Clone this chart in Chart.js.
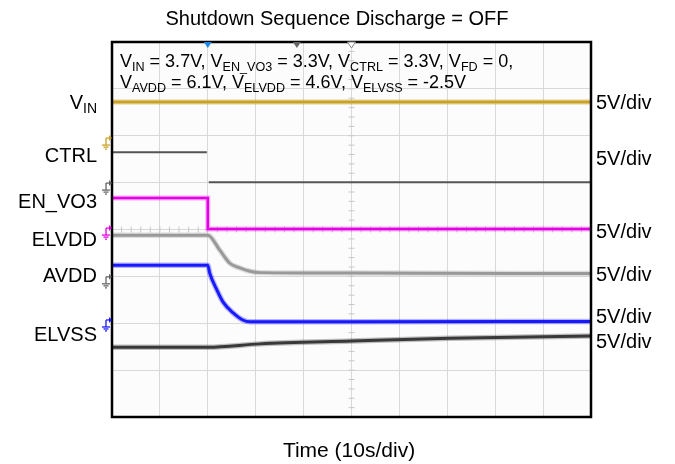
<!DOCTYPE html>
<html>
<head>
<meta charset="utf-8">
<script src="https://cdn.jsdelivr.net/npm/chart.js@4/dist/chart.umd.min.js"></script>
<style>
  html, body { margin: 0; padding: 0; background: #fff; }
  #wrap { width: 675px; height: 464px; }
</style>
</head>
<body>
<div id="wrap"><canvas id="scope"></canvas></div>
<script>
// time in seconds (10 s/div), levels in screen divisions from bottom of graticule
const vinT = [0, 100];
const vinDiv = [6.72, 6.72];

// null = gap (no visible edge on the CTRL trace)
const ctrlT = [0, 19.8, 20, 20.2, 100];
const ctrlDiv = [5.65, 5.65, null, 5.01, 5.01];

const envo3T = [0, 20, 20, 100];
const envo3Div = [4.67, 4.67, 4.01, 4.01];

const elvddT = [0, 20, 22.5, 24.6, 26.7, 28.8, 30.9, 50, 100];
const elvddDiv = [3.88, 3.88, 3.56, 3.28, 3.18, 3.11, 3.08, 3.07, 3.06];

const avddT = [0, 20, 20.4, 21.9, 23.2, 25.3, 27.3, 28.8, 50, 100];
const avddDiv = [3.24, 3.24, 3.07, 2.71, 2.45, 2.22, 2.07, 2.03, 2.03, 2.04];

const elvssT = [0, 20, 30.9, 50, 70.6, 100];
const elvssDiv = [1.49, 1.49, 1.56, 1.62, 1.68, 1.73];

const groundDiv = [5.95, 4.99, 4.03, 2.99, 2.07];
const groundColors = ["#c9a227", "#666666", "#e600e6", "#666666", "#1a1aff"];

const leftLabels = [["V", "IN", 6.72], ["CTRL", "", 5.6], ["EN_VO3", "", 4.6], ["ELVDD", "", 3.8], ["AVDD", "", 3.03], ["ELVSS", "", 1.78]];
const rightLabels = [6.72, 5.52, 3.97, 3.06, 2.16, 1.62];

function pts(t, v) { return t.map((x, i) => ({ x: x, y: v[i] })); }

function trace(t, v, color, width, halo, smooth) {
  const base = { pointRadius: 0, fill: false, spanGaps: false, tension: smooth ? 0.4 : 0, cubicInterpolationMode: smooth ? "monotone" : "default" };
  const out = [Object.assign({ data: pts(t, v), borderColor: color, borderWidth: width }, base)];
  if (halo) out.unshift(Object.assign({ data: pts(t, v), borderColor: color + "50", borderWidth: width + 2.5 }, base));
  return out;
}

function richText(ctx, parts, x, y, size) {
  // parts: [text, isSub]
  parts.forEach(p => {
    const s = p[1] ? size * 0.7 : size;
    ctx.font = s + "px 'Liberation Sans', Arial, sans-serif";
    ctx.fillText(p[0], x, p[1] ? y + 4 : y);
    x += ctx.measureText(p[0]).width;
  });
  return x;
}

const scopeDeco = {
  id: "scopeDeco",
  beforeDraw(chart) {
    const { ctx, chartArea: a } = chart;
    ctx.save();
    ctx.fillStyle = "#fcfcfc";
    ctx.fillRect(a.left, a.top, a.right - a.left, a.bottom - a.top);
    ctx.restore();
  },
  beforeDatasetsDraw(chart) {
    const { ctx, chartArea: a, scales: { x, y } } = chart;
    ctx.save();
    ctx.strokeStyle = "#c8c8c8";
    ctx.lineWidth = 1;
    const cx = x.getPixelForValue(50), cy = y.getPixelForValue(4);
    for (let d = 0; d <= 8; d += 0.2) {
      const py = y.getPixelForValue(d);
      ctx.beginPath(); ctx.moveTo(cx - 3, py); ctx.lineTo(cx + 3, py); ctx.stroke();
    }
    for (let t = 0; t <= 100; t += 2) {
      const px = x.getPixelForValue(t);
      ctx.beginPath(); ctx.moveTo(px, cy - 3); ctx.lineTo(px, cy + 3); ctx.stroke();
    }
    ctx.restore();
  },
  afterDraw(chart) {
    const { ctx, chartArea: a, scales: { x, y } } = chart;
    ctx.save();
    // frame
    ctx.strokeStyle = "#000";
    ctx.lineWidth = 2.5;
    ctx.strokeRect(a.left, a.top, a.right - a.left, a.bottom - a.top);

    // top markers
    const tri = (t, fill, stroke) => {
      const px = x.getPixelForValue(t);
      ctx.beginPath();
      ctx.moveTo(px - 4, a.top); ctx.lineTo(px + 4, a.top); ctx.lineTo(px, a.top + 6); ctx.closePath();
      if (fill) { ctx.fillStyle = fill; ctx.fill(); }
      if (stroke) { ctx.strokeStyle = stroke; ctx.lineWidth = 1; ctx.stroke(); }
    };
    tri(20, "#1e88e5");
    tri(38.6, "#666");
    tri(50, "#fff", "#888");

    // ground markers
    groundDiv.forEach((d, i) => {
      const py = y.getPixelForValue(d);
      const c = groundColors[i];
      ctx.strokeStyle = c; ctx.fillStyle = c; ctx.lineWidth = 1.3;
      ctx.beginPath(); ctx.moveTo(a.left - 6, py); ctx.lineTo(a.left - 3, py); ctx.stroke();
      ctx.beginPath(); ctx.moveTo(a.left - 3, py - 3); ctx.lineTo(a.left, py); ctx.lineTo(a.left - 3, py + 3); ctx.closePath(); ctx.fill();
      ctx.beginPath(); ctx.moveTo(a.left - 6, py); ctx.lineTo(a.left - 6, py + 7); ctx.stroke();
      ctx.beginPath(); ctx.moveTo(a.left - 10, py + 7); ctx.lineTo(a.left - 2, py + 7); ctx.stroke();
      ctx.beginPath(); ctx.moveTo(a.left - 8.5, py + 9); ctx.lineTo(a.left - 3.5, py + 9); ctx.stroke();
      ctx.beginPath(); ctx.moveTo(a.left - 7, py + 11); ctx.lineTo(a.left - 5, py + 11); ctx.stroke();
    });

    // texts
    ctx.fillStyle = "#000";
    ctx.textBaseline = "alphabetic";
    ctx.textAlign = "center";
    ctx.font = "20px 'Liberation Sans', Arial, sans-serif";
    ctx.fillText("Shutdown Sequence Discharge = OFF", 337, 25);
    ctx.font = "21px 'Liberation Sans', Arial, sans-serif";
    ctx.fillText("Time (10s/div)", 349, 457);

    ctx.textAlign = "left";
    richText(ctx, [["V"], ["IN", 1], [" = 3.7V, V"], ["EN_VO3", 1], [" = 3.3V, V"], ["CTRL", 1], [" = 3.3V, V"], ["FD", 1], [" = 0,"]], a.left + 8, 67, 18);
    richText(ctx, [["V"], ["AVDD", 1], [" = 6.1V, V"], ["ELVDD", 1], [" = 4.6V, V"], ["ELVSS", 1], [" = -2.5V"]], a.left + 8, 88, 18);

    // channel names, right aligned
    leftLabels.forEach(l => {
      const py = y.getPixelForValue(l[2]) + 7;
      ctx.font = "20px 'Liberation Sans', Arial, sans-serif";
      let w = ctx.measureText(l[0]).width;
      let sw = 0;
      if (l[1]) { ctx.font = "14px 'Liberation Sans', Arial, sans-serif"; sw = ctx.measureText(l[1]).width; }
      richText(ctx, l[1] ? [[l[0]], [l[1], 1]] : [[l[0]]], 97 - w - sw, py, 20);
    });

    ctx.font = "20px 'Liberation Sans', Arial, sans-serif";
    rightLabels.forEach(d => {
      ctx.fillText("5V/div", a.right + 5, y.getPixelForValue(d) + 7);
    });
    ctx.restore();
  }
};

new Chart(document.getElementById("scope"), {
  type: "line",
  data: {
    datasets: [
      ...trace(vinT, vinDiv, "#c9a227", 3, true, false),
      ...trace(ctrlT, ctrlDiv, "#555555", 2, false, false),
      ...trace(envo3T, envo3Div, "#e600e6", 2.5, true, false),
      ...trace(elvddT, elvddDiv, "#999999", 3, true, true),
      ...trace(avddT, avddDiv, "#1a1aff", 3, true, true),
      ...trace(elvssT, elvssDiv, "#3a3a3a", 3, true, true),
    ],
  },
  options: {
    responsive: true,
    maintainAspectRatio: false,
    animation: false,
    layout: { padding: { left: 112, right: 84, top: 42, bottom: 47 } },
    plugins: { legend: { display: false }, tooltip: { enabled: false } },
    scales: {
      x: {
        type: "linear", min: 0, max: 100,
        ticks: { display: false, stepSize: 10 },
        grid: { color: "#d9d9d9", drawTicks: false },
        border: { display: false },
      },
      y: {
        min: 0, max: 8,
        ticks: { display: false, stepSize: 1 },
        grid: { color: "#d9d9d9", drawTicks: false },
        border: { display: false },
      },
    },
  },
  plugins: [scopeDeco],
});
</script>
</body>
</html>
